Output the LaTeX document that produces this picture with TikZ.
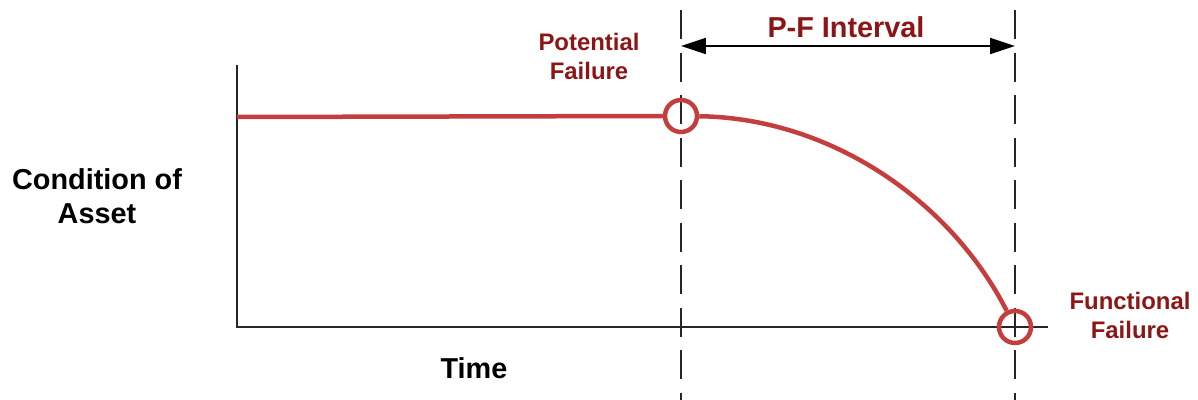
\documentclass[tikz,border=0pt]{standalone}
\usepackage{fontspec}
\setmainfont{Liberation Sans}
\usetikzlibrary{arrows.meta}
\definecolor{curvered}{RGB}{196,62,62}
\definecolor{labelred}{RGB}{140,22,22}
\tikzset{
  axisline/.style={draw=black!85, line width=1.4pt},
  guideline/.style={draw=black!85, line width=1.1pt, dash pattern=on 0.725cm off 0.3375cm},
  redline/.style={draw=curvered, line width=3.2pt},
  marker/.style={circle, draw=curvered, line width=3.2pt, minimum size=0.8cm, inner sep=0pt},
  redlabel/.style={text=labelred, font=\bfseries\fontsize{17}{20.6}\selectfont, align=center, inner sep=0pt},
  blacklabel/.style={text=black, font=\bfseries\fontsize{20.5}{24}\selectfont, align=center, inner sep=0pt},
}
\begin{document}
\begin{tikzpicture}[x=0.025cm, y=-0.025cm]
\useasboundingbox (0,0) rectangle (1198,400);
% axes
\coordinate (ytop) at (237,65);
\coordinate (origin) at (237,327);
\coordinate (xend) at (1048,327);
\draw[axisline] (ytop) -- (origin) -- (xend);
% guide lines
\coordinate (pftop) at (681,10);
\coordinate (pfbot) at (681,400);
\coordinate (fftop) at (1015,10);
\coordinate (ffbot) at (1015,400);
\draw[guideline] (pftop) -- (pfbot);
\draw[guideline] (fftop) -- (ffbot);
% markers
\node[marker] (pf) at (681,116) {};
\node[marker] (ff) at (1015,327) {};
% condition curve
\coordinate (start) at (237,117);
\draw[redline] (start) -- (pf.west);
\draw[redline] (pf) .. controls (830,118) and (950,200) .. (ff);
% interval arrow
\coordinate (al) at (681,46);
\coordinate (ar) at (1015,46);
\draw[black, line width=1.1pt, {Triangle[length=0.62cm,width=0.4cm]}-{Triangle[length=0.62cm,width=0.4cm]}] (al) -- (ar);
% labels
\node[redlabel, font=\bfseries\fontsize{20.5}{24}\selectfont] (pfi) at (846,27) {P-F Interval};
\node[redlabel] (pflab) at (589,56) {Potential\\Failure};
\node[redlabel] (fflab) at (1130,315) {Functional\\Failure};
\node[blacklabel] (cond) at (97,196) {Condition of\\Asset};
\node[blacklabel, anchor=base] (time) at (474,378) {Time};
\end{tikzpicture}
\end{document}
